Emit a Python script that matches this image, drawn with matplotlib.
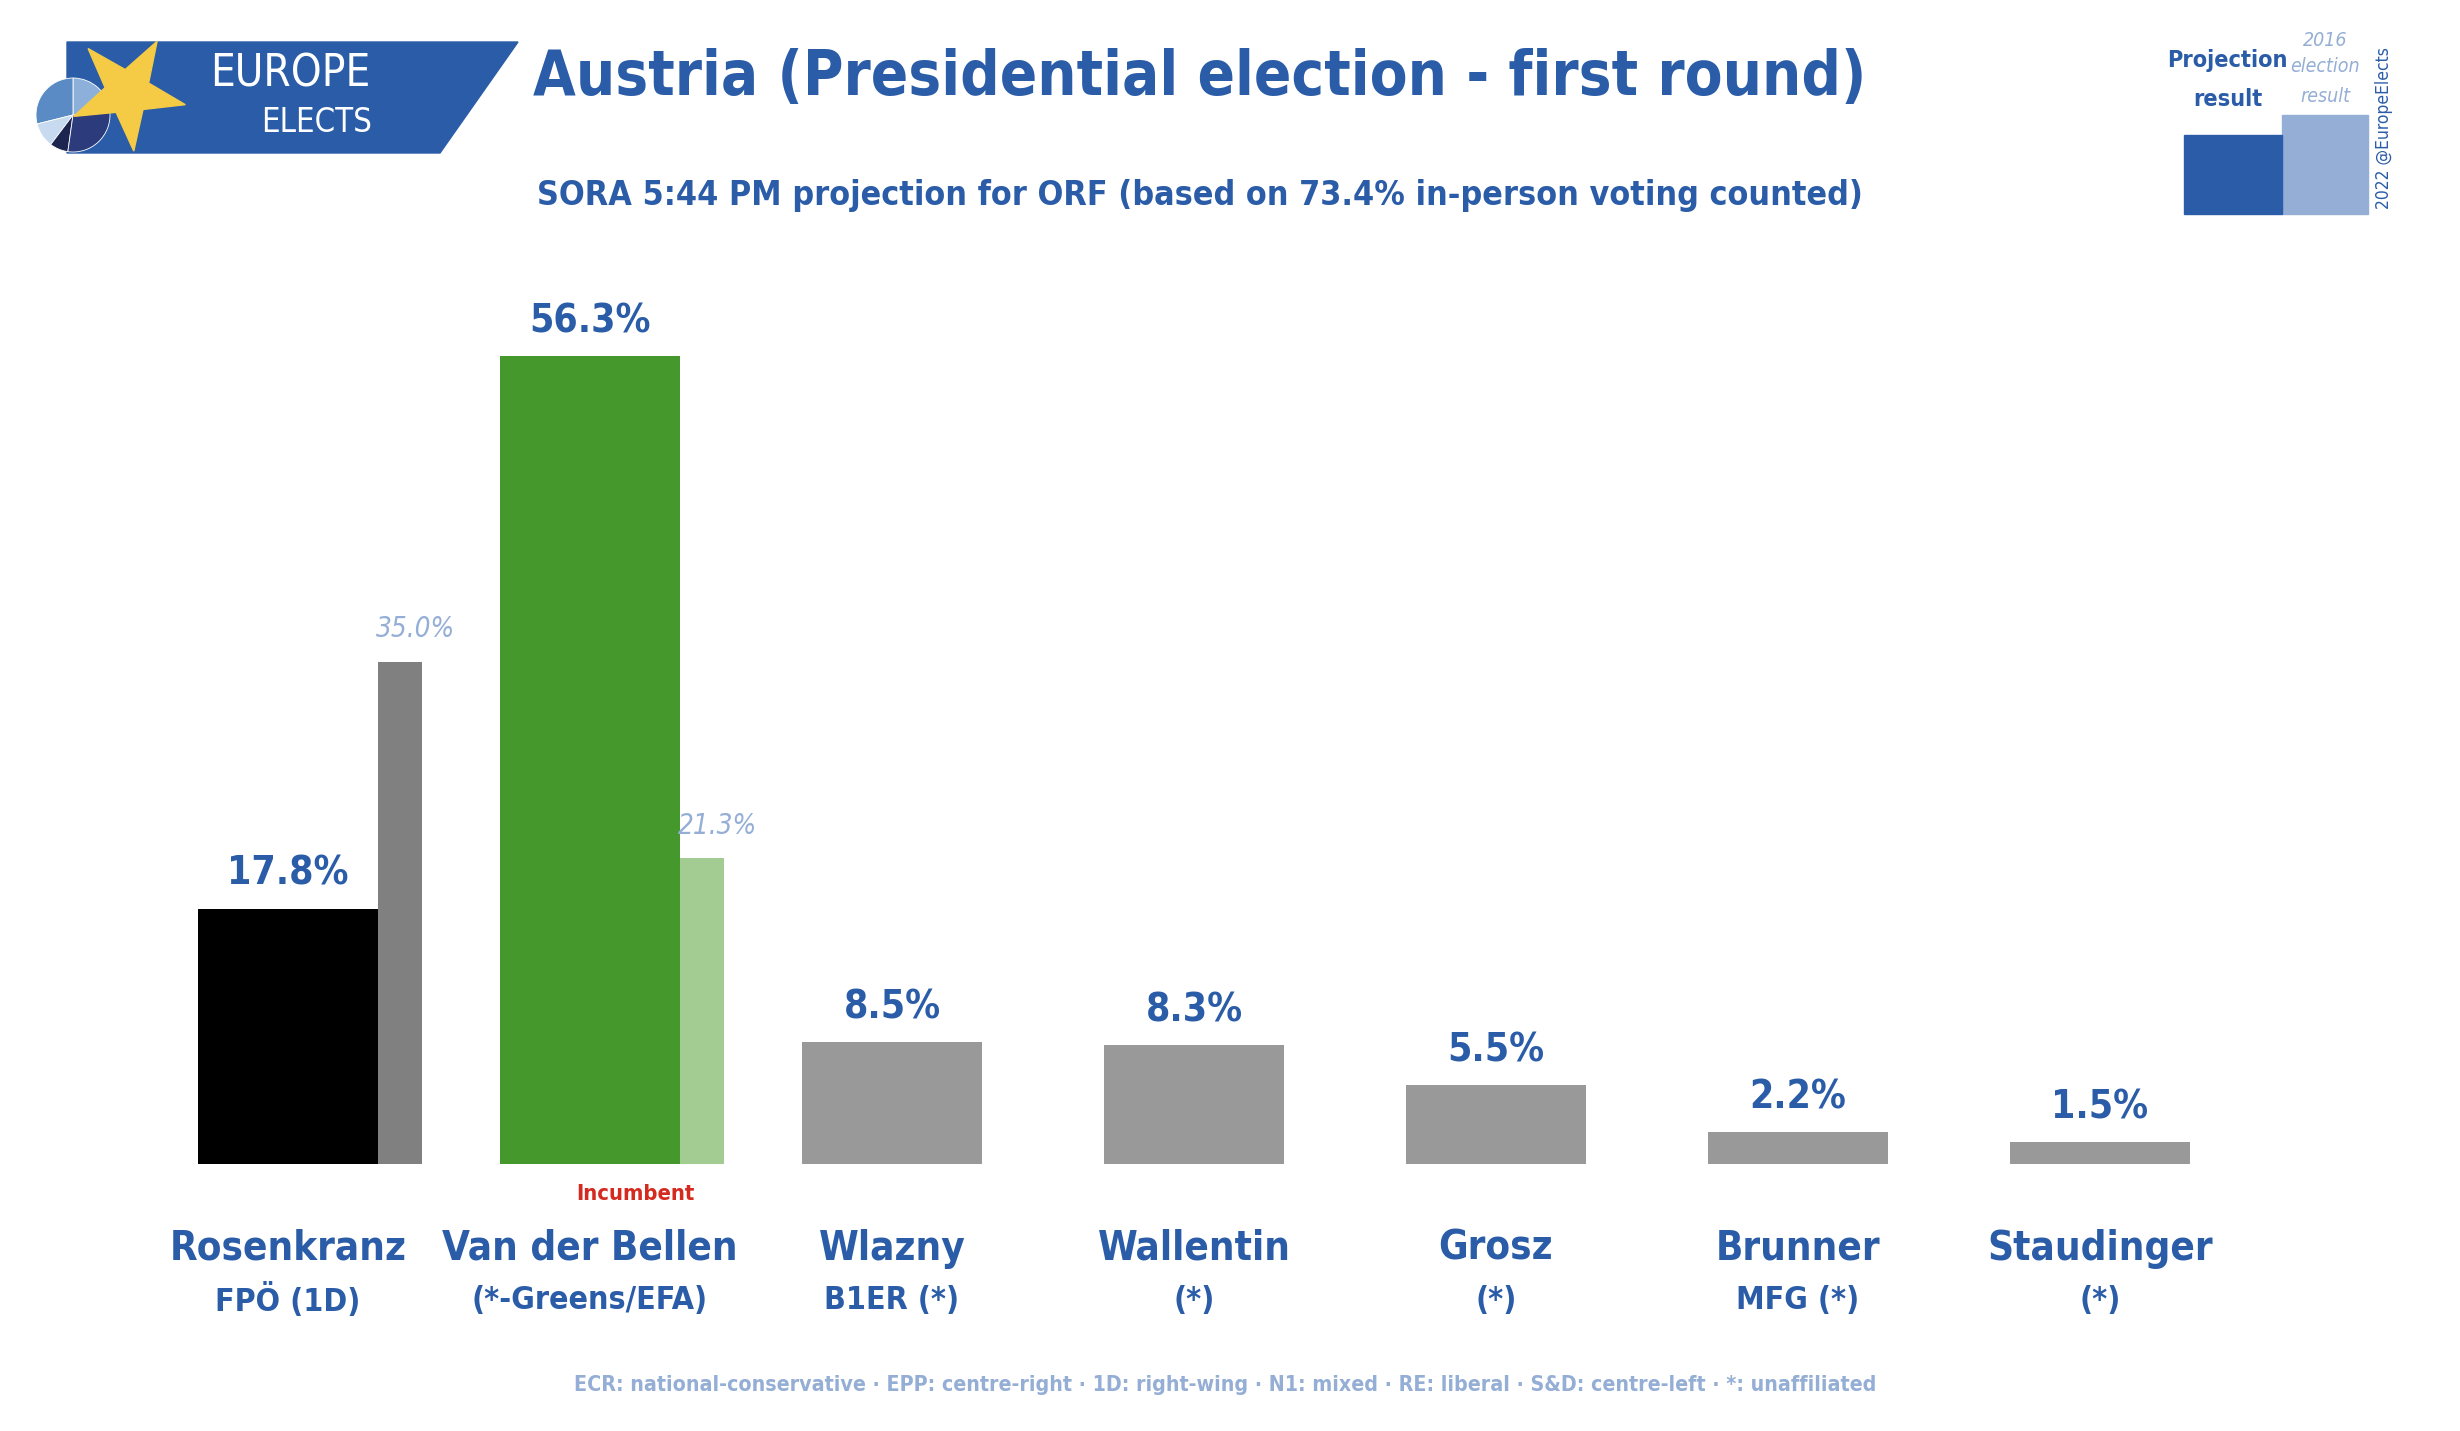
import numpy as np
import matplotlib
matplotlib.use("Agg")
import matplotlib.pyplot as plt
from matplotlib import font_manager
from matplotlib.patches import Polygon, Rectangle, Wedge

# ==========================================
# DATA
# ==========================================
candidates = ["Rosenkranz", "Van der Bellen", "Wlazny", "Wallentin", "Grosz", "Brunner", "Staudinger"]
parties = ["FPÖ (1D)", "(*-Greens/EFA)", "B1ER (*)", "(*)", "(*)", "MFG (*)", "(*)"]
projection = [17.8, 56.3, 8.5, 8.3, 5.5, 2.2, 1.5]
result_2016 = [35.0, 21.3, None, None, None, None, None]
bar_colors = ["#000000", "#45982B", "#999999", "#999999", "#999999", "#999999", "#999999"]
prev_colors = ["#808080", "#A3CC93", None, None, None, None, None]

title = "Austria (Presidential election - first round)"
subtitle = "SORA 5:44 PM projection for ORF (based on 73.4% in-person voting counted)"
footer = ("ECR: national-conservative · EPP: centre-right · 1D: right-wing · N1: mixed · "
          "RE: liberal · S&D: centre-left · *: unaffiliated")

BLUE = "#2A5CA8"
LIGHT = "#94AED5"
RED = "#D42A20"

# use a condensed face if one is installed (the original uses a narrow font)
narrow = [f for f in font_manager.fontManager.ttflist
          if str(f.stretch) in ("condensed", "semi-condensed", "extra-condensed")
          or "Condensed" in f.name or "Narrow" in f.name]
if narrow:
    plt.rcParams["font.family"] = [narrow[0].name, "DejaVu Sans"]
    if str(narrow[0].stretch) != "normal":
        plt.rcParams["font.stretch"] = narrow[0].stretch
else:
    plt.rcParams["font.family"] = ["DejaVu Sans"]

W, H = 2460, 1431
fig = plt.figure(figsize=(W / 100, H / 100), dpi=100)
renderer = fig.canvas.get_renderer()


def fit_size(txt, width_px, horizontal=True):
    # font size at which the text spans the width measured on the reference
    bb = txt.get_window_extent(renderer)
    cur = bb.width if horizontal else bb.height
    return txt.get_fontsize() * width_px / cur


def fit(txt, width_px, horizontal=True):
    txt.set_fontsize(fit_size(txt, width_px, horizontal))
    return txt


# ==========================================
# BAR AXES (pixel layout: first centre 288, step 302, baseline 1164, 14.35 px per %)
# ==========================================
ax = fig.add_axes([0, 0, 1, 1])
step, x0, base, ppu = 302.0, 288.0, 1164.0, 14.35
ax.set_xlim(-x0 / step, (W - x0) / step)
ax.set_ylim(-(H - base) / ppu, base / ppu)
ax.axis("off")

bw = 180 / step
pw = 44 / step
x = np.arange(len(candidates))

prev_lbls = []
for i in x:
    if result_2016[i] is not None:
        ax.bar(i + bw / 2 + pw / 2, result_2016[i], width=pw, color=prev_colors[i], zorder=1)
        prev_lbls.append(ax.text(i + bw / 2 + pw / 2 + 0.05, result_2016[i] + 1.3,
                                 f"{result_2016[i]:.1f}%", ha="center", va="bottom",
                                 color=LIGHT, fontsize=20, style="italic"))
ax.bar(x, projection, width=bw, color=bar_colors, zorder=2)

val_lbls, name_lbls, party_lbls = [], [], []
for i in x:
    val_lbls.append(ax.text(i, projection[i] + 1.1, f"{projection[i]:.1f}%", ha="center",
                            va="bottom", color=BLUE, fontsize=30, fontweight="bold", zorder=3))
    name_lbls.append(ax.text(i, -5.9, candidates[i], ha="center", va="center", color=BLUE,
                             fontsize=30, fontweight="bold"))
    party_lbls.append(ax.text(i, -9.5, parties[i], ha="center", va="center", color=BLUE,
                              fontsize=24, fontweight="bold"))
inc = ax.text(1.15, -2.1, "Incumbent", ha="center", va="center", color=RED, fontsize=16,
              fontweight="bold")

# widths (px)
name_w = [232, 290, 146, 185, 113, 160, 217]
party_w = [146, 253]
s = 1.04 * min(fit_size(t, w) for t, w in zip(name_lbls, name_w))
for t in name_lbls:
    t.set_fontsize(s)
s = min(fit_size(t, w) for t, w in zip(party_lbls[:2], party_w))
for t in party_lbls:
    t.set_fontsize(s)
s = min(1.25 * fit_size(val_lbls[1], 97), 36)
for t in val_lbls:
    t.set_fontsize(s)
s = min(1.1 * fit_size(prev_lbls[0], 72), 22)
for t in prev_lbls:
    t.set_fontsize(s)
fit(inc, 119)

# ==========================================
# DECORATION AXES (pixel coords, y down)
# ==========================================
deco = fig.add_axes([0, 0, 1, 1], zorder=5)
deco.set_xlim(0, W)
deco.set_ylim(H, 0)
deco.axis("off")

# logo banner
deco.add_patch(Polygon([(67, 42), (518, 42), (440, 153), (67, 153)], closed=True, color=BLUE))
pie_cols = ["#8DB0DA", "#5A8BC5", "#C8DAEF", "#1B2550", "#2C3B7C"]
pie_ang = [(5, 90), (90, 194), (194, 233), (233, 262), (262, 365)]
for (a1, a2), c in zip(pie_ang, pie_cols):
    # y axis is flipped, so negate angles
    deco.add_patch(Wedge((73, 115), 37, -a2, -a1, color=c, ec="white", lw=0.6))
ang = np.deg2rad(60 + np.arange(10) * 36)
rad = np.where(np.arange(10) % 2 == 0, 59, 23)
deco.add_patch(Polygon(np.c_[127.6 + rad * np.cos(ang), 92.4 - rad * np.sin(ang)], closed=True,
                       color="#F5CB45", zorder=3))
fit(deco.text(290, 74, "EUROPE", color="white", fontsize=30, ha="center", va="center"), 160)
fit(deco.text(317, 122, "ELECTS", color="white", fontsize=24, ha="center", va="center"), 111)

# titles
fit(deco.text(1200, 78, title, color=BLUE, fontsize=50, fontweight="bold", ha="center",
              va="center"), 1334)
fit(deco.text(1200, 196, subtitle, color=BLUE, fontsize=28, fontweight="bold", ha="center",
              va="center"), 1324)
fit(deco.text(1225, 1385, footer, color=LIGHT, fontsize=18, fontweight="bold", ha="center",
              va="center"), 1299)

# legend box top right
deco.add_patch(Rectangle((2282, 115), 86, 99, color=LIGHT))
deco.add_patch(Rectangle((2184, 135), 98, 79, color=BLUE))
fit(deco.text(2227, 60, "Projection", color=BLUE, fontsize=22, fontweight="bold", ha="center",
              va="center"), 120)
deco.text(2228, 99, "result", color=BLUE, fontsize=deco.texts[-1].get_fontsize(),
          fontweight="bold", ha="center", va="center")
t16 = []
for yy, s16 in zip([40, 67, 96], ["2016", "election", "result"]):
    t16.append(deco.text(2325, yy, s16, color=LIGHT, fontsize=16, style="italic",
                         ha="center", va="center"))
s = fit_size(t16[1], 70)
for t in t16:
    t.set_fontsize(s)
fit(deco.text(2384, 128, "2022 @EuropeElects", color=BLUE, fontsize=16, rotation=90,
              ha="center", va="center"), 163, horizontal=False)

fig.savefig("out.png", dpi=100)
